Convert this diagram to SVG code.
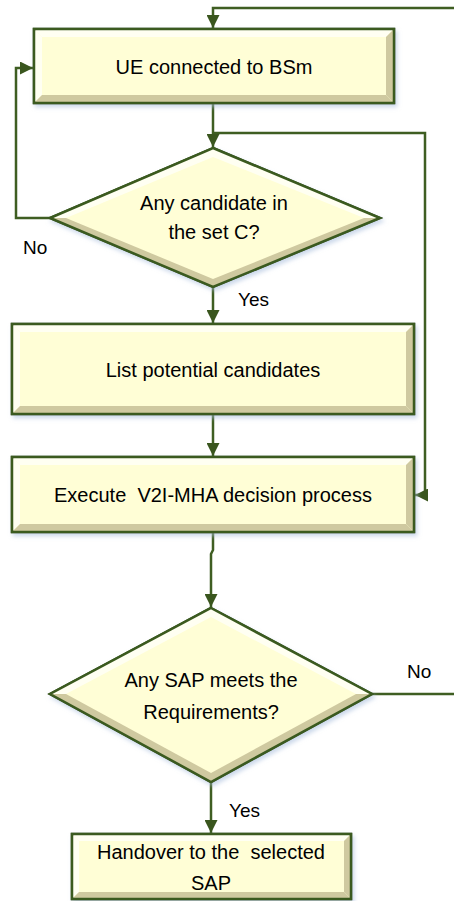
<svg xmlns="http://www.w3.org/2000/svg" width="454" height="901" viewBox="0 0 454 901">
<defs>
<style>
.box{fill:#FFFED6;stroke:#3B5A1F;stroke-width:2.5}
.hi{fill:#FFFFF2}
.lo{fill:#CFC9A0}
.lo2{fill:#E6E1B8}
.txt{font-family:"Liberation Sans",Arial,sans-serif;font-size:20px;fill:#000;text-anchor:middle}
.lbl{font-family:"Liberation Sans",Arial,sans-serif;font-size:19px;fill:#000}
.conn{fill:none;stroke:#3F5E22;stroke-width:2.5}
</style>
<marker id="arr" viewBox="0 0 10 10" refX="10" refY="5" markerWidth="15" markerHeight="13" markerUnits="userSpaceOnUse" orient="auto">
<path d="M0,0 L10,5 L0,10 z" fill="#3A561E"/>
</marker>
<filter id="sh" x="-10%" y="-10%" width="125%" height="130%">
<feDropShadow dx="2" dy="3" stdDeviation="2" flood-color="#A9BEDD" flood-opacity="0.6"/>
</filter>
</defs>

<g id="connectors">
<path class="conn" d="M454 8 H213 V28" marker-end="url(#arr)"/>
<path class="conn" d="M50 218 H16 V68 H33" marker-end="url(#arr)"/>
<path class="conn" d="M213 103 V147" marker-end="url(#arr)"/>
<path class="conn" d="M213 133 H425 V495 H415" marker-end="url(#arr)"/>
<path class="conn" d="M213 287 V323" marker-end="url(#arr)"/>
<path class="conn" d="M213 415 V456" marker-end="url(#arr)"/>
<path class="conn" d="M213 532 V550 L211 554 V607" marker-end="url(#arr)"/>
<path class="conn" d="M372 694 H454"/>
<path class="conn" d="M211 782 V833" marker-end="url(#arr)"/>
</g>

<g id="node-ue">
<rect class="box" x="34" y="29" width="360" height="74" filter="url(#sh)"/>
<polygon class="hi" points="35,30 393,30 386,37 42,37"/>
<polygon class="hi" points="35,30 42,37 42,95 35,102"/>
<polygon class="lo" points="35,102 42,95 386,95 393,102"/>
<polygon class="lo" points="393,30 393,102 386,95 386,37"/>
<rect x="34" y="29" width="360" height="74" fill="none" stroke="#3B5A1F" stroke-width="2.5"/>
<text class="txt" x="214" y="74">UE connected to BSm</text>
</g>

<g id="node-d1">
<polygon class="box" points="213,148 380,218 213,287 50,218" filter="url(#sh)"/>
<polygon class="hi" points="50,218 213,148 213,157 66,218"/>
<polygon class="hi" points="213,148 380,218 364,218 213,157"/>
<polygon class="lo" points="50,218 66,218 213,279 213,287"/>
<polygon class="lo" points="213,287 213,279 364,218 380,218"/>
<polygon points="213,148 380,218 213,287 50,218" fill="none" stroke="#3B5A1F" stroke-width="2.5"/>
<text class="txt" x="214" y="210">Any candidate in</text>
<text class="txt" x="214" y="239">the set C?</text>
</g>
<text class="lbl" x="23" y="254">No</text>
<text class="lbl" x="238" y="306">Yes</text>

<g id="node-list">
<rect class="box" x="12" y="324" width="402" height="90" filter="url(#sh)"/>
<polygon class="hi" points="13,325 413,325 406,332 20,332"/>
<polygon class="hi" points="13,325 20,332 20,406 13,413"/>
<polygon class="lo" points="13,413 20,406 406,406 413,413"/>
<polygon class="lo" points="413,325 413,413 406,406 406,332"/>
<rect x="12" y="324" width="402" height="90" fill="none" stroke="#3B5A1F" stroke-width="2.5"/>
<text class="txt" x="213" y="377">List potential candidates</text>
</g>

<g id="node-exec">
<rect class="box" x="12" y="457" width="402" height="75" filter="url(#sh)"/>
<polygon class="hi" points="13,458 413,458 406,465 20,465"/>
<polygon class="hi" points="13,458 20,465 20,524 13,531"/>
<polygon class="lo" points="13,531 20,524 406,524 413,531"/>
<polygon class="lo" points="413,458 413,531 406,524 406,465"/>
<rect x="12" y="457" width="402" height="75" fill="none" stroke="#3B5A1F" stroke-width="2.5"/>
<text class="txt" x="213" y="502" xml:space="preserve">Execute  V2I-MHA decision process</text>
</g>

<g id="node-d2">
<polygon class="box" points="211,608 372,694 211,782 50,694" filter="url(#sh)"/>
<polygon class="hi" points="50,694 211,608 211,617 66,694"/>
<polygon class="hi" points="211,608 372,694 356,694 211,617"/>
<polygon class="lo" points="50,694 66,694 211,773 211,782"/>
<polygon class="lo" points="211,782 211,773 356,694 372,694"/>
<polygon points="211,608 372,694 211,782 50,694" fill="none" stroke="#3B5A1F" stroke-width="2.5"/>
<text class="txt" x="211" y="687">Any SAP meets the</text>
<text class="txt" x="211" y="719">Requirements?</text>
</g>
<text class="lbl" x="407" y="678">No</text>
<text class="lbl" x="229" y="817">Yes</text>

<g id="node-handover">
<rect class="box" x="72" y="834" width="279" height="65" filter="url(#sh)"/>
<polygon class="hi" points="73,835 350,835 344,841 79,841"/>
<polygon class="hi" points="73,835 79,841 79,892 73,898"/>
<polygon class="lo" points="73,898 79,892 344,892 350,898"/>
<polygon class="lo" points="350,835 350,898 344,892 344,841"/>
<rect x="72" y="834" width="279" height="65" fill="none" stroke="#3B5A1F" stroke-width="2.5"/>
<text class="txt" x="211" y="859" xml:space="preserve">Handover to the  selected</text>
<text class="txt" x="211" y="890">SAP</text>
</g>
</svg>
